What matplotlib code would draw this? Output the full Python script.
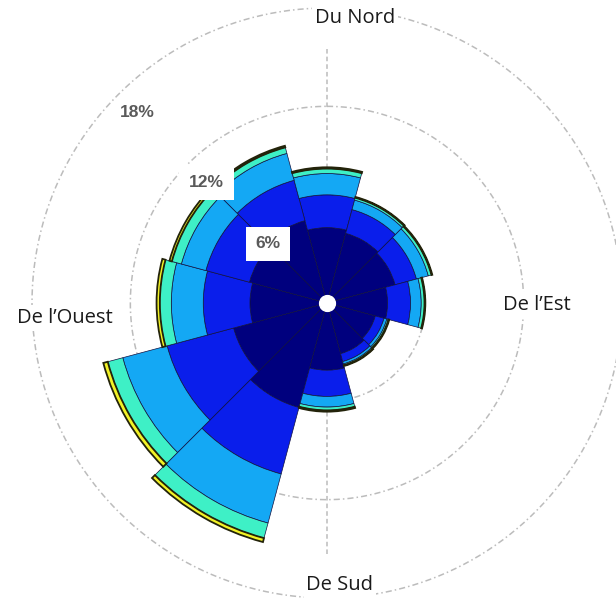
import numpy as np
import matplotlib.pyplot as plt

# directions (degrees, clockwise from north) and frequency per speed class (%)
directions = [0, 30, 60, 90, 120, 150, 180, 210, 240, 270, 300, 330]
class_1 = [4.6, 4.4, 4.3, 3.7, 3.05, 3.2, 4.1, 6.6, 5.9, 4.7, 4.9, 5.2]
class_2 = [2.0, 1.5, 1.35, 1.4, 0.55, 0.5, 1.6, 4.2, 4.2, 2.85, 2.75, 2.55]
class_3 = [1.3, 0.6, 0.75, 0.65, 0.18, 0.15, 0.65, 3.1, 2.8, 1.95, 1.55, 1.7]
class_4 = [0.3, 0.15, 0.2, 0.2, 0.1, 0.08, 0.2, 0.95, 0.95, 0.7, 0.6, 0.38]
class_5 = [0.08, 0.05, 0.05, 0.05, 0.05, 0.05, 0.08, 0.25, 0.28, 0.2, 0.15, 0.1]
classes = [class_1, class_2, class_3, class_4, class_5]
colors = ["#00007E", "#0A1EEB", "#14A8F4", "#3EF0C6", "#F2F226"]

rings = [6, 12, 18]
ring_labels = ["6%", "12%", "18%"]
ring_label_r = [5.1, 10.4, 16.4]
dir_labels = ["Du Nord", "De l\u2019Est", "De Sud", "De l\u2019Ouest"]

fig = plt.figure(figsize=(6.16, 5.98), dpi=100)
ax = fig.add_axes([32 / 616, 0.0, 590 / 616, 590 / 598], projection="polar")
ax.set_theta_zero_location("N")
ax.set_theta_direction(-1)
ax.set_ylim(0, 18)
ax.grid(False)
ax.set_xticks([])
ax.set_yticks([])
ax.spines["polar"].set_visible(False)
ax.patch.set_alpha(0)

# dashed rings and north-south line
th = np.linspace(0, 2 * np.pi, 400)
for r in rings:
    ax.plot(th, np.full_like(th, r), color="#bcbcbc", lw=1.1,
            ls=(0, (4, 2, 1, 2)), zorder=1, clip_on=False)
ax.plot([0, 0], [15.5, 0], color="#bcbcbc", lw=1.1, ls=(0, (3, 2)), zorder=1)
ax.plot([np.pi, np.pi], [15.3, 0], color="#bcbcbc", lw=1.1, ls=(0, (3, 2)), zorder=1)

theta = np.radians(directions)
width = 2 * np.pi / len(directions)
bottom = np.zeros(len(directions))
for i, (vals, c) in enumerate(zip(classes, colors)):
    last = i == len(classes) - 1
    ax.bar(theta, vals, width=width, bottom=bottom, color=c,
           edgecolor="#23230a" if last else "#101040",
           linewidth=1.3 if last else 0.5, zorder=3)
    bottom = bottom + np.array(vals)

ax.scatter([0], [0], s=130, color="white", zorder=6)

# ring labels
for r, lab in zip(ring_label_r, ring_labels):
    bb = dict(facecolor="white", edgecolor="none", pad=7) if r < 15 else None
    ax.text(np.radians(315), r, lab, ha="center", va="center", fontsize=12.5,
            fontweight="bold", color="#5a5a5a", family="Liberation Sans",
            bbox=bb, zorder=7)

# direction labels
pos = [(355, 18), (537, 305), (340, 585), (65, 318)]
for (px, py), lab in zip(pos, dir_labels):
    fig.text(px / 616, 1 - py / 598, lab, ha="center", va="center",
             fontsize=14.5, family="Open Sans", color="#1a1a1a",
             bbox=dict(facecolor="white", edgecolor="none", pad=2))

fig.savefig("out.png", dpi=100)
